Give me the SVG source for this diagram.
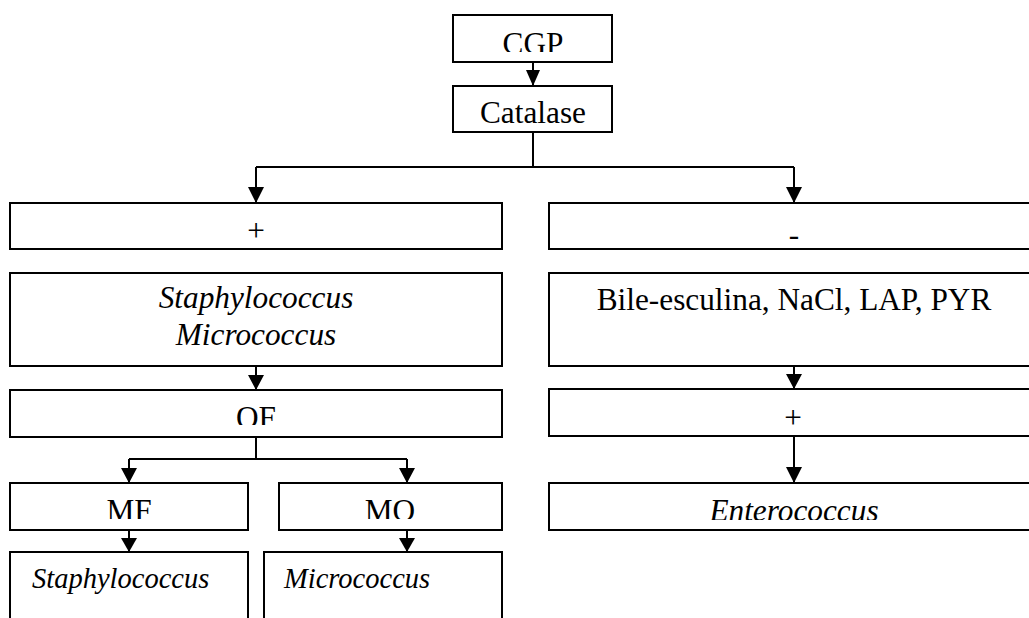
<svg xmlns="http://www.w3.org/2000/svg" width="1029" height="618" viewBox="0 0 1029 618">
<style>
.box{fill:#fff;stroke:#000;stroke-width:2}
.t{font-family:"Liberation Serif","Times New Roman",serif;font-size:31.3px;fill:#000;text-anchor:middle}
.i{font-style:italic}
.b{font-size:28.5px;text-anchor:start}
.c{fill:none;stroke:#000;stroke-width:2}
</style>
<defs>
<clipPath id="cCGP"><rect x="453" y="15" width="159" height="37"/></clipPath>
<clipPath id="cOF"><rect x="10" y="390" width="492" height="35"/></clipPath>
<clipPath id="cMF"><rect x="10" y="483" width="238" height="36"/></clipPath>
<clipPath id="cMO"><rect x="279" y="483" width="223" height="36"/></clipPath>
<clipPath id="cEnt"><rect x="549" y="483" width="480" height="37"/></clipPath>
</defs>
<g id="connectors">
<path class="c" d="M533,62 V86"/>
<polygon points="526,70 540,70 533,86"/>
<path class="c" d="M533,132 V167 M256,167 H794 M256,167 V203 M794,167 V203"/>
<polygon points="248,187 264,187 256,203"/>
<polygon points="786,187 802,187 794,203"/>
<path class="c" d="M256,366 V390"/>
<polygon points="248,375 264,375 256,390"/>
<path class="c" d="M794,366 V389"/>
<polygon points="786,374 802,374 794,389"/>
<path class="c" d="M256,437 V459 M129,459 H407 M129,459 V483 M407,459 V483"/>
<polygon points="121,468 137,468 129,483"/>
<polygon points="399,468 415,468 407,483"/>
<path class="c" d="M794,436 V483"/>
<polygon points="786,467 802,467 794,483"/>
<path class="c" d="M129,530 V552 M407,530 V552"/>
<polygon points="121,538 137,538 129,552"/>
<polygon points="399,538 415,538 407,552"/>
</g>
<g id="n-cgp"><rect class="box" x="453" y="15" width="159" height="47"/><text class="t" x="533" y="54" clip-path="url(#cCGP)">CGP</text></g>
<g id="n-catalase"><rect class="box" x="453" y="86" width="159" height="46"/><text class="t" x="533" y="123">Catalase</text></g>
<g id="n-pos"><rect class="box" x="10" y="203" width="492" height="46"/><text class="t" x="256" y="241">+</text></g>
<g id="n-neg"><rect class="box" x="549" y="203" width="500" height="46"/><text class="t" x="794" y="245">-</text></g>
<g id="n-staphmicro"><rect class="box" x="10" y="273" width="492" height="93"/><text class="t i" x="256" y="308">Staphylococcus</text><text class="t i" x="256" y="345">Micrococcus</text></g>
<g id="n-bile"><rect class="box" x="549" y="273" width="500" height="93"/><text class="t" x="794" y="310">Bile-esculina, NaCl, LAP, PYR</text></g>
<g id="n-of"><rect class="box" x="10" y="390" width="492" height="47"/><text class="t" x="256" y="428" clip-path="url(#cOF)">OF</text></g>
<g id="n-pos2"><rect class="box" x="549" y="389" width="500" height="47"/><text class="t" x="793" y="428">+</text></g>
<g id="n-mf"><rect class="box" x="10" y="483" width="238" height="47"/><text class="t" x="129" y="521" clip-path="url(#cMF)">MF</text></g>
<g id="n-mo"><rect class="box" x="279" y="483" width="223" height="47"/><text class="t" x="390" y="521" clip-path="url(#cMO)">MO</text></g>
<g id="n-entero"><rect class="box" x="549" y="483" width="500" height="47"/><text class="t i" x="794" y="521" clip-path="url(#cEnt)">Enterococcus</text></g>
<g id="n-staph"><rect class="box" x="10" y="552" width="238" height="100"/><text class="t i b" x="32" y="588">Staphylococcus</text></g>
<g id="n-micro"><rect class="box" x="264" y="552" width="238" height="100"/><text class="t i b" x="284" y="588">Micrococcus</text></g>
</svg>
